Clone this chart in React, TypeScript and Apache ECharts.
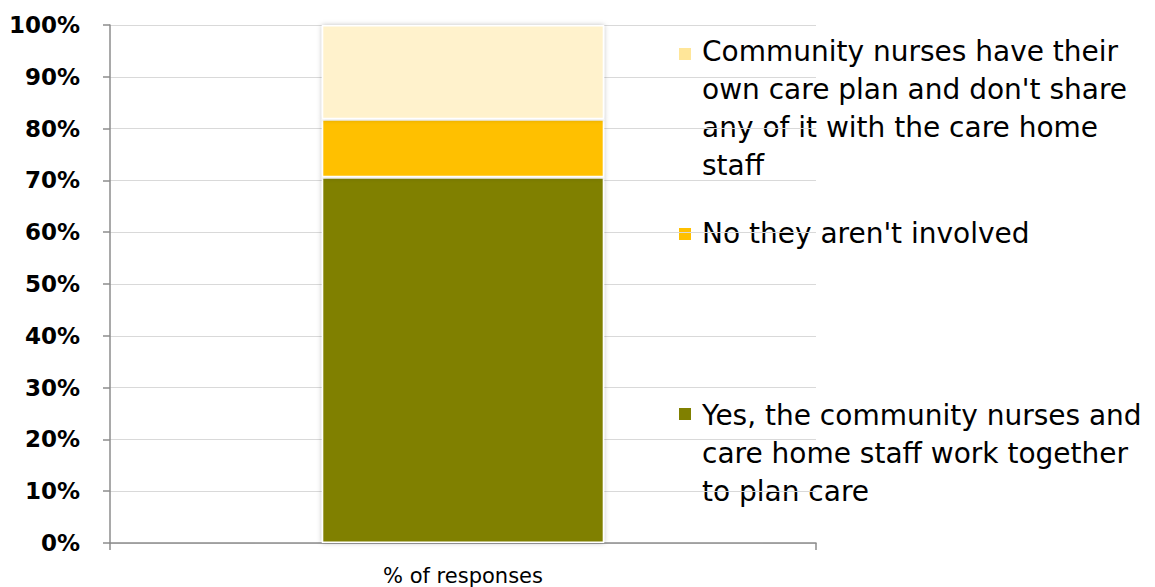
import React, { useEffect, useRef } from "react";
import * as echarts from "echarts";

const categories = ["% of responses"];
const seriesNames = [
  "Yes, the community nurses and care home staff work together to plan care",
  "No they aren't involved",
  "Community nurses have their own care plan and don't share any of it with the care home staff",
];
const legendLines = [
  ["Yes, the community nurses and", "care home staff work together", "to plan care"],
  ["No they aren't involved"],
  ["Community nurses have their", "own care plan and don't share", "any of it with the care home", "staff"],
];
const yesValues = [70.6];
const noValues = [11.2];
const ownPlanValues = [18.2];
const yTicks = [0, 10, 20, 30, 40, 50, 60, 70, 80, 90, 100];

const barColors = ["#808000", "#FFC000", "#FFF2CC"];
const markerColors = ["#808000", "#FFC000", "#FFE699"];

export default function App() {
  const ref = useRef<HTMLDivElement>(null);
  useEffect(() => {
    if (!ref.current) return;
    const chart = echarts.init(ref.current, null, { renderer: "svg" });
    const values = [yesValues, noValues, ownPlanValues];
    const legendTops = [397, 215, 33];
    const markerTops = [408, 228, 48];
    const graphics: any[] = [];
    legendLines.forEach((lines, i) => {
      graphics.push({
        type: "rect",
        shape: { x: 679, y: markerTops[i], width: 12, height: 12 },
        style: { fill: markerColors[i] },
      });
      graphics.push({
        type: "text",
        x: 702,
        y: legendTops[i] - 1,
        style: {
          text: lines.join("\n"),
          fontSize: 28,
          fontFamily: "DejaVu Sans",
          lineHeight: 38,
          verticalAlign: "top",
          fill: "#000",
        },
      });
    });
    chart.setOption({
      animation: false,
      grid: { left: 110, right: 339, top: 25, bottom: 44, containLabel: false },
      xAxis: {
        type: "category",
        data: categories,
        boundaryGap: true,
        axisLine: { show: true, lineStyle: { color: "#8c8c8c", width: 1.5 } },
        axisTick: { show: true, length: 7, lineStyle: { color: "#8c8c8c", width: 1.5 } },
        axisLabel: {
          margin: 22,
          fontSize: 21,
          fontFamily: "DejaVu Sans",
          color: "#000",
        },
      },
      yAxis: {
        type: "value",
        min: 0,
        max: 100,
        interval: 10,
        axisLine: { show: true, lineStyle: { color: "#8c8c8c", width: 1.5 } },
        axisTick: { show: true, length: 7, lineStyle: { color: "#8c8c8c", width: 1.5 } },
        splitLine: { show: true, lineStyle: { color: "#d9d9d9", width: 1 } },
        axisLabel: {
          margin: 30,
          fontSize: 23,
          fontWeight: "bold",
          fontFamily: "DejaVu Sans",
          color: "#000",
          formatter: (v: number) => (yTicks.includes(v) ? v + "%" : ""),
        },
      },
      graphic: graphics,
      series: seriesNames.map((name, i) => ({
        name,
        type: "bar",
        stack: "total",
        barWidth: "40%",
        data: values[i],
        itemStyle: {
          color: barColors[i],
          borderColor: "#ffffff",
          borderWidth: 1.5,
          shadowBlur: 5,
          shadowColor: "rgba(0,0,0,0.25)",
        },
      })),
    });
    return () => chart.dispose();
  }, []);
  return (
    <div
      ref={ref}
      style={{ position: "absolute", left: 0, top: 0, width: 1155, height: 587, background: "#fff" }}
    />
  );
}
